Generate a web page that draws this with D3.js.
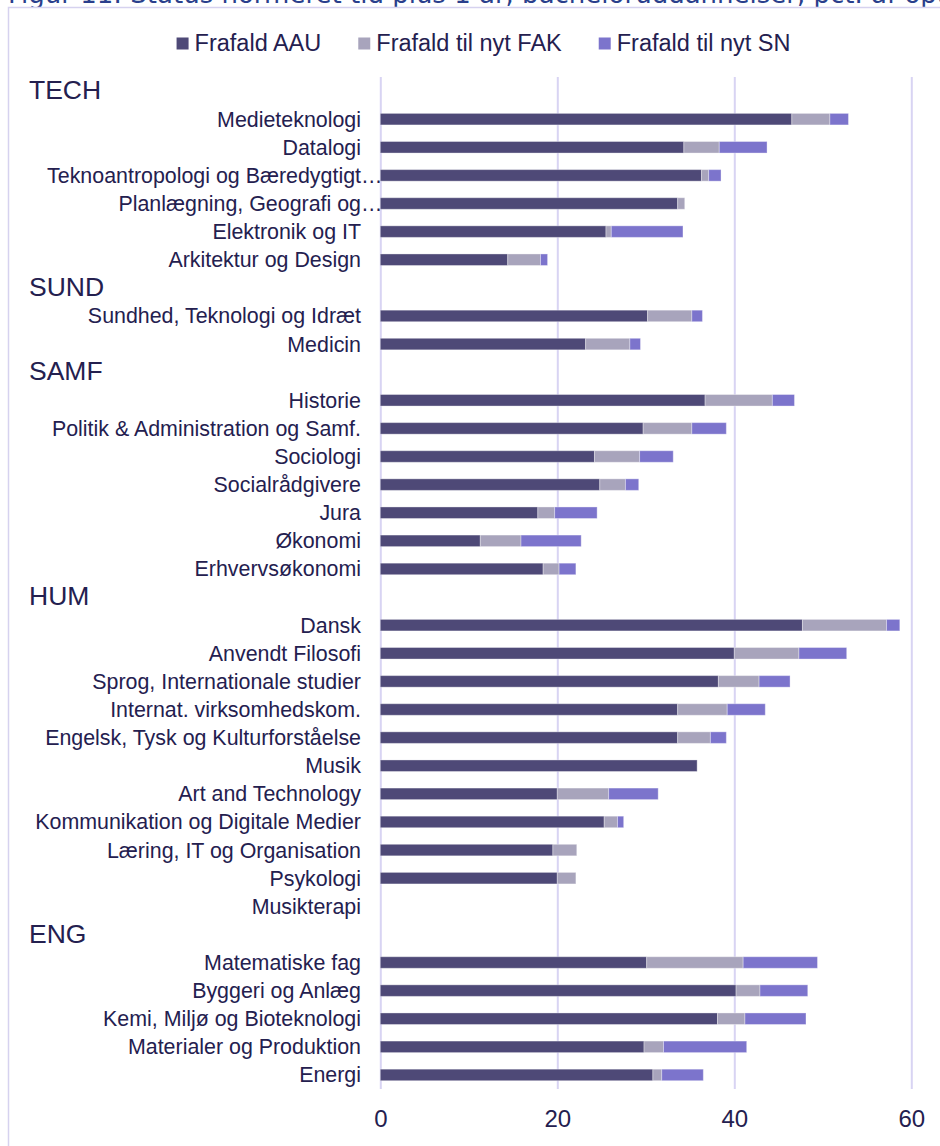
<!DOCTYPE html>
<html>
<head>
<meta charset="utf-8">
<script src="https://cdn.jsdelivr.net/npm/d3@7"></script>
<style>
  html, body { margin: 0; padding: 0; background: #fff; }
  svg { display: block; }
</style>
</head>
<body>
<svg id="chart" width="940" height="1146"></svg>
<script>
// Faculty groups and their bachelor programmes, top to bottom
const groups = ["TECH", "SUND", "SAMF", "HUM", "ENG"];

const programmes = [
  "Medieteknologi", "Datalogi", "Teknoantropologi og Bæredygtigt…", "Planlægning, Geografi og…",
  "Elektronik og IT", "Arkitektur og Design",
  "Sundhed, Teknologi og Idræt", "Medicin",
  "Historie", "Politik & Administration og Samf.", "Sociologi", "Socialrådgivere", "Jura",
  "Økonomi", "Erhvervsøkonomi",
  "Dansk", "Anvendt Filosofi", "Sprog, Internationale studier", "Internat. virksomhedskom.",
  "Engelsk, Tysk og Kulturforståelse", "Musik", "Art and Technology",
  "Kommunikation og Digitale Medier", "Læring, IT og Organisation", "Psykologi", "Musikterapi",
  "Matematiske fag", "Byggeri og Anlæg", "Kemi, Miljø og Bioteknologi", "Materialer og Produktion", "Energi"
];

const programmeGroup = [
  "TECH", "TECH", "TECH", "TECH", "TECH", "TECH",
  "SUND", "SUND",
  "SAMF", "SAMF", "SAMF", "SAMF", "SAMF", "SAMF", "SAMF",
  "HUM", "HUM", "HUM", "HUM", "HUM", "HUM", "HUM", "HUM", "HUM", "HUM", "HUM",
  "ENG", "ENG", "ENG", "ENG", "ENG"
];

// Series (pct.)
const frafaldAAU = [
  46.5, 34.3, 36.3, 33.6, 25.5, 14.4,
  30.2, 23.2,
  36.7, 29.7, 24.2, 24.8, 17.8, 11.3, 18.4,
  47.7, 40.0, 38.2, 33.6, 33.6, 35.8, 20.0, 25.3, 19.5, 20.0, 0,
  30.1, 40.2, 38.1, 29.8, 30.8
];
const frafaldFAK = [
  4.3, 4.0, 0.8, 0.8, 0.6, 3.7,
  5.0, 5.0,
  7.6, 5.5, 5.1, 2.9, 1.9, 4.6, 1.8,
  9.5, 7.3, 4.6, 5.6, 3.7, 0, 5.8, 1.5, 2.7, 2.1, 0,
  10.9, 2.7, 3.1, 2.2, 1.0
];
const frafaldSN = [
  2.1, 5.4, 1.4, 0, 8.1, 0.8,
  1.2, 1.2,
  2.5, 3.9, 3.8, 1.5, 4.8, 6.8, 1.9,
  1.5, 5.4, 3.5, 4.3, 1.8, 0, 5.6, 0.7, 0, 0, 0,
  8.4, 5.4, 6.9, 9.4, 4.7
];

const seriesNames = ["Frafald AAU", "Frafald til nyt FAK", "Frafald til nyt SN"];
const seriesColors = ["#4e4977", "#a8a4bc", "#7c74cc"];
const xTicks = [0, 20, 40, 60];

const titleText = "Figur 11: Status normeret tid plus 1 år, bacheloruddannelser, pct. af optag";

// Build the row list: a header row per group followed by its programmes
const rows = [];
groups.forEach(g => {
  rows.push({ kind: "group", label: g });
  programmes.forEach((p, i) => {
    if (programmeGroup[i] === g) {
      rows.push({ kind: "prog", label: p, a: frafaldAAU[i], b: frafaldFAK[i], c: frafaldSN[i] });
    }
  });
});
rows.forEach((r, i) => r.idx = i);

const svg = d3.select("#chart");
const textColor = "#24204f";
const font = "'Liberation Sans', Arial, sans-serif";

// Title (runs off the top of the frame)
svg.append("text")
  .attr("x", 8).attr("y", 3)
  .attr("font-family", "'DejaVu Sans', Verdana, sans-serif")
  .attr("font-size", 26)
  .attr("fill", "#2a3f8c")
  .text(titleText);

// Chart frame
svg.append("rect")
  .attr("x", 8.5).attr("y", 7.5)
  .attr("width", 1000).attr("height", 1200)
  .attr("fill", "#fff")
  .attr("stroke", "#d6d2ef")
  .attr("stroke-width", 1.5);

const plotTop = 77, plotBottom = 1089;
const x = d3.scaleLinear().domain([0, 60]).range([380.3, 911.3]);
const y = d3.scaleBand()
  .domain(rows.map(r => r.idx))
  .range([plotTop, plotBottom])
  .paddingInner(0.59)
  .paddingOuter(0.295);

// Vertical gridlines
const grid = svg.append("g")
  .attr("transform", `translate(0,${plotBottom})`)
  .call(d3.axisBottom(x).tickValues(xTicks).tickSize(-(plotBottom - plotTop)).tickFormat(""));
grid.select(".domain").remove();
grid.selectAll(".tick line").attr("stroke", "#d8d4f3").attr("stroke-width", 2);

// Tick labels
const axis = svg.append("g")
  .attr("transform", `translate(0,${plotBottom})`)
  .call(d3.axisBottom(x).tickValues(xTicks).tickSize(0).tickPadding(21).tickFormat(d3.format("d")));
axis.select(".domain").remove();
axis.selectAll("text")
  .attr("font-family", font)
  .attr("font-size", 24)
  .attr("fill", textColor);

// Stacked bars
const progRows = rows.filter(r => r.kind === "prog");
const stack = d3.stack().keys(["a", "b", "c"]);
const stacked = stack(progRows);

svg.append("g").selectAll("g")
  .data(stacked)
  .join("g")
  .attr("fill", (d, i) => seriesColors[i])
  .selectAll("rect")
  .data(d => d.filter(s => s[1] - s[0] > 0))
  .join("rect")
  .attr("x", d => x(d[0]))
  .attr("y", d => y(d.data.idx))
  .attr("width", d => x(d[1]) - x(d[0]))
  .attr("height", y.bandwidth())
  .attr("stroke", "rgba(255,255,255,0.35)")
  .attr("stroke-width", 1);

// Category labels
const labelRight = 361;
const labels = svg.append("g");
rows.forEach(r => {
  const cy = y(r.idx) + y.bandwidth() / 2;
  if (r.kind === "group") {
    labels.append("text")
      .attr("x", 29).attr("y", cy - 1)
      .attr("dy", "0.35em")
      .attr("font-family", font)
      .attr("font-size", 26.5)
      .attr("fill", textColor)
      .text(r.label);
  } else {
    const truncated = r.label.endsWith("…");
    const main = truncated ? r.label.slice(0, -1) : r.label;
    labels.append("text")
      .attr("x", labelRight).attr("y", cy)
      .attr("dy", "0.35em")
      .attr("text-anchor", "end")
      .attr("font-family", font)
      .attr("font-size", 21.4)
      .attr("fill", textColor)
      .text(main);
    if (truncated) {
      labels.append("text")
        .attr("x", labelRight).attr("y", cy)
        .attr("dy", "0.35em")
        .attr("font-family", font)
        .attr("font-size", 21.4)
        .attr("fill", textColor)
        .text("…");
    }
  }
});

// Legend, centred above the plot
const legend = svg.append("g");
const items = legend.selectAll("g").data(seriesNames).join("g");
items.append("rect")
  .attr("width", 12).attr("height", 12)
  .attr("y", 37.5)
  .attr("fill", (d, i) => seriesColors[i]);
items.append("text")
  .attr("x", 18).attr("y", 51)
  .attr("font-family", font)
  .attr("font-size", 23.5)
  .attr("fill", textColor)
  .text(d => d);
const widths = [];
items.each(function () {
  widths.push(d3.select(this).select("text").node().getComputedTextLength() + 18);
});
const gap = 37;
const total = d3.sum(widths) + gap * (widths.length - 1);
let cursor = 483.5 - total / 2;
items.attr("transform", (d, i) => {
  const t = `translate(${cursor},0)`;
  cursor += widths[i] + gap;
  return t;
});
</script>
</body>
</html>
